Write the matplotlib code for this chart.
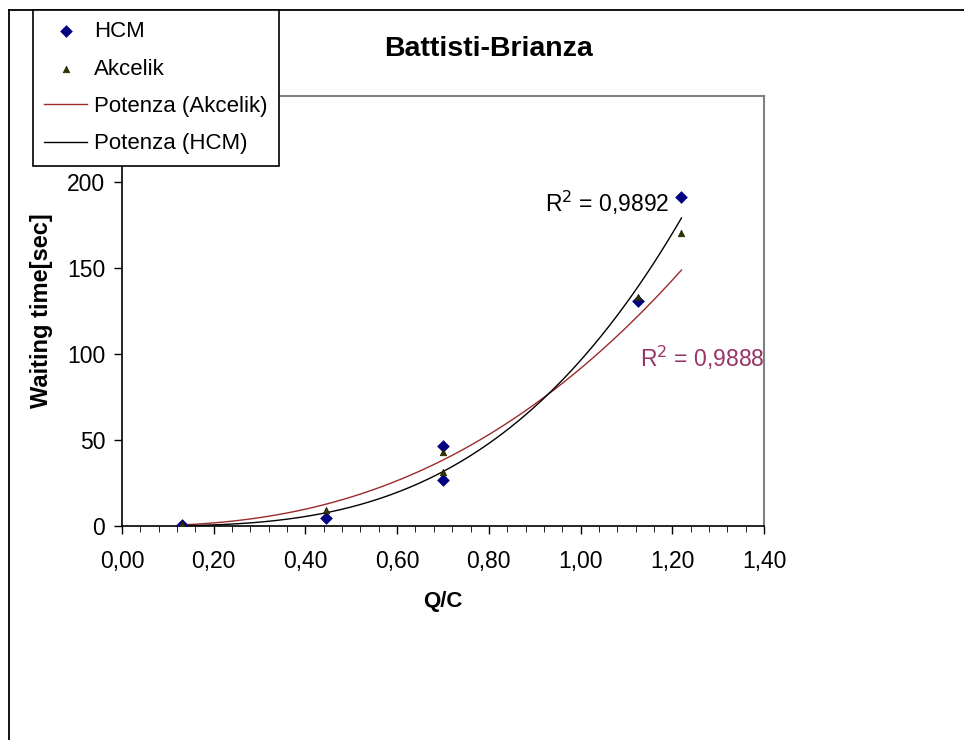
import numpy as np
import matplotlib
matplotlib.use("Agg")
import matplotlib.pyplot as plt
from matplotlib.lines import Line2D
from matplotlib.ticker import MultipleLocator, FixedLocator, FuncFormatter

plt.rcParams['font.family'] = ['Liberation Sans', 'DejaVu Sans']

# misure (Q/C, tempo di attesa in secondi)
qc = [0.13, 0.445, 0.70, 0.70, 1.125, 1.22]
attesa_hcm = [0.3, 4.6, 46.7, 26.7, 130.8, 191.5]
attesa_akcelik = [1.0, 9.3, 43.2, 31.2, 133.0, 170.5]

# linee di tendenza di potenza y = a * x^b
pot_hcm = (96.3, 3.12)
pot_akcelik = (91.6, 2.44)
r2_hcm = "0,9892"
r2_akcelik = "0,9888"

fig = plt.figure(figsize=(9.64, 7.40), dpi=100)
ax = fig.add_axes([122 / 964, 214 / 740, 642 / 964, 430 / 740])

xx = np.linspace(min(qc), max(qc), 200)
ax.plot(xx, pot_akcelik[0] * xx ** pot_akcelik[1], color='#9c2a2a', lw=1.0, label='Potenza (Akcelik)', zorder=2)
ax.plot(xx, pot_hcm[0] * xx ** pot_hcm[1], color='black', lw=1.0, label='Potenza (HCM)', zorder=2)
ax.scatter(qc, attesa_hcm, marker='D', s=42, color='#000080', label='HCM', zorder=3, linewidths=0)
ax.scatter(qc, attesa_akcelik, marker='^', s=22, color='#333300', edgecolor='#222200', label='Akcelik', zorder=4, linewidths=0.5)

ax.set_xlim(0, 1.4)
ax.set_ylim(0, 250)
ax.xaxis.set_major_locator(MultipleLocator(0.2))
ax.xaxis.set_minor_locator(MultipleLocator(0.04))
# il 250 resta sotto la legenda
ax.yaxis.set_major_locator(FixedLocator([0, 50, 100, 150, 200]))
ax.xaxis.set_major_formatter(FuncFormatter(lambda v, p: f"{v:.2f}".replace('.', ',')))
ax.yaxis.set_major_formatter(FuncFormatter(lambda v, p: f"{v:.0f}"))
ax.tick_params(axis='both', labelsize=16.5, direction='out', color='black', width=1.0)
ax.tick_params(axis='x', which='major', length=6, pad=11)
ax.tick_params(axis='x', which='minor', length=4)
ax.tick_params(axis='y', length=6, pad=6)

for lato in ['left', 'bottom']:
    ax.spines[lato].set_color('black')
    ax.spines[lato].set_linewidth(1.2)
for lato in ['top', 'right']:
    ax.spines[lato].set_color('#808080')
    ax.spines[lato].set_linewidth(1.5)

ax.set_xlabel('Q/C', fontsize=16, fontweight='bold', labelpad=13)
ax.set_ylabel('Waiting time[sec]', fontsize=17, fontweight='bold', labelpad=10)
fig.text(489 / 964, 1 - 49 / 740, 'Battisti-Brianza', fontsize=20.5, fontweight='bold',
         ha='center', va='center')

ax.text(0.922, 188, r'R$^2$ = ' + r2_hcm, fontsize=16.5, color='black', va='center', ha='left')
ax.text(1.129, 98, r'R$^2$ = ' + r2_akcelik, fontsize=16.5, color='#993366', va='center', ha='left')

# legenda in ordine: punti poi linee
h, l = ax.get_legend_handles_labels()
ordine = [l.index('HCM'), l.index('Akcelik'), l.index('Potenza (Akcelik)'), l.index('Potenza (HCM)')]
leg = fig.legend([h[i] for i in ordine], [l[i] for i in ordine],
                 loc='upper left', bbox_to_anchor=(33 / 964, 1 - 10 / 740),
                 borderaxespad=0, fontsize=16, frameon=True, fancybox=False,
                 framealpha=1, facecolor='white',
                 edgecolor='black', handlelength=1.95, handletextpad=0.3,
                 labelspacing=0.74, borderpad=0.5)
leg.get_frame().set_linewidth(1.2)
leg.set_zorder(10)

# cornice esterna
fig.add_artist(Line2D([9 / 964, 1.0], [1 - 10 / 740, 1 - 10 / 740], color='black', lw=1.3, transform=fig.transFigure))
fig.add_artist(Line2D([9 / 964, 9 / 964], [0, 1 - 10 / 740], color='black', lw=1.3, transform=fig.transFigure))

fig.savefig('out.png', dpi=100, facecolor='white')
